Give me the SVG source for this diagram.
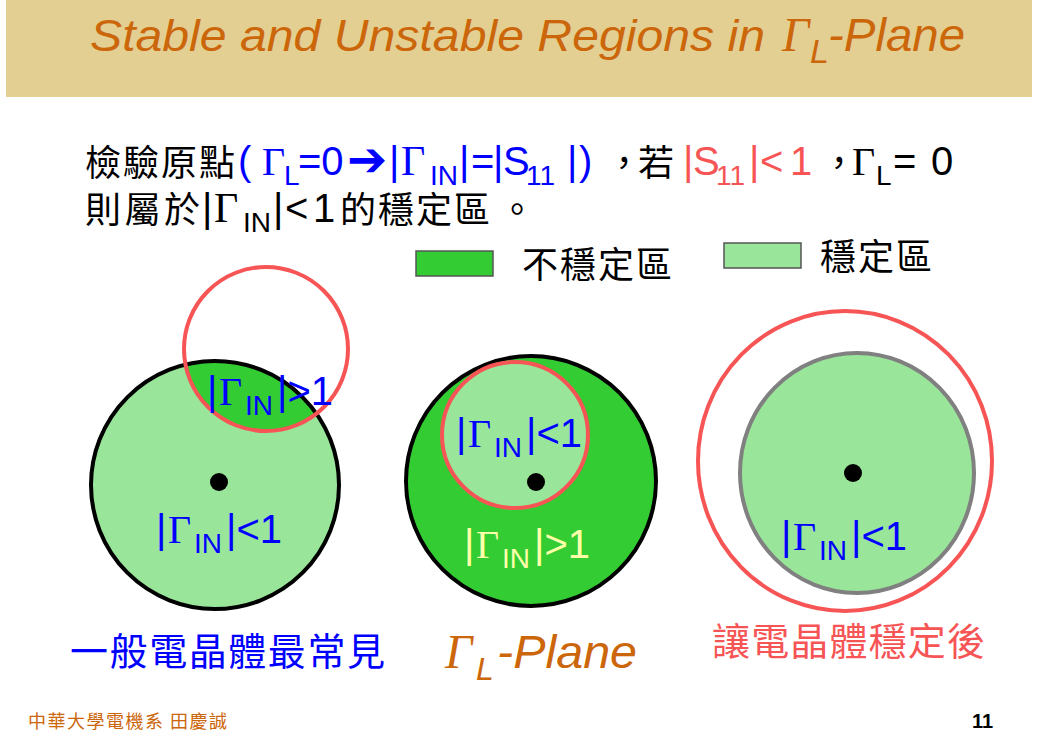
<svg xmlns="http://www.w3.org/2000/svg" width="1040" height="744" viewBox="0 0 1040 744">
<style>
.s{font-family:"Liberation Sans",Arial,sans-serif}
.g{font-family:"Liberation Serif","Times New Roman",serif}
.c{font-family:"Noto Sans CJK TC","Noto Sans CJK SC",sans-serif}
.it{font-style:italic}
.blue{fill:#0000FF}
.black{fill:#000}
.red{fill:#F75555}
.org{fill:#CC660A}
.lbl{font-size:40px}
.sub{font-size:28px}
.t1{font-size:40px}
.t1 .sb{font-size:28px}
</style>
<defs>
<clipPath id="clipL"><circle cx="215" cy="485" r="124"/></clipPath>
</defs>
<rect x="0" y="0" width="1040" height="744" fill="#fff"/>
<g id="header">
<rect x="6" y="0" width="1026" height="97" fill="#E3CF92"/>
<text class="s it org" x="90" y="51" font-size="45" textLength="675" lengthAdjust="spacingAndGlyphs">Stable and Unstable Regions in</text>
<text class="g it org" x="782" y="51" font-size="48">Γ</text>
<text class="s it org" x="810" y="63" font-size="34">L</text>
<text class="s it org" x="828" y="51" font-size="46" textLength="137" lengthAdjust="spacingAndGlyphs">-Plane</text>
</g>
<g id="intro" class="t1">
<text class="c black" x="85" y="176" font-size="36" textLength="150">檢驗原點</text>
<g class="blue">
<text class="s" x="238" y="175">(</text>
<text class="g" x="262" y="175">Γ</text>
<text class="s sb" x="284" y="185">L</text>
<text class="s" x="298" y="175">=0</text>
<text x="347" y="176" font-size="48" font-family="DejaVu Sans" font-weight="bold">➔</text>
<text class="s" x="389" y="175">|</text>
<text class="g" x="401" y="175" font-size="42">Γ</text>
<text class="s sb" x="430" y="185">IN</text>
<text class="s" x="459" y="175">|</text>
<text class="s" x="471" y="175">=</text>
<text class="s" x="493" y="175">|</text>
<text class="s" x="503" y="175">S</text>
<text class="s sb" x="526" y="185">11</text>
<text class="s" x="567" y="175">|</text>
<text class="s" x="579" y="175">)</text>
</g>
<text class="c black" x="606" y="176" font-size="36">，</text>
<text class="c black" x="638" y="176" font-size="36">若</text>
<g class="red">
<text class="s" x="683" y="175">|</text>
<text class="s" x="693" y="175">S</text>
<text class="s sb" x="716" y="185">11</text>
<text class="s" x="749" y="175">|</text>
<text class="s" x="760" y="175">&lt;</text>
<text class="s" x="790" y="175">1</text>
</g>
<text class="c black" x="821" y="176" font-size="36">，</text>
<text class="g black" x="852" y="175">Γ</text>
<text class="s sb black" x="876" y="185">L</text>
<text class="s black" x="893" y="175">=</text>
<text class="s black" x="931" y="175">0</text>
<text class="c black" x="85" y="223" font-size="36" textLength="115">則屬於</text>
<text class="s black" x="202" y="222">|</text>
<text class="g black" x="214" y="222" font-size="42">Γ</text>
<text class="s sb black" x="243" y="232">IN</text>
<text class="s black" x="273" y="222">|</text>
<text class="s black" x="285" y="222">&lt;</text>
<text class="s black" x="313" y="222">1</text>
<text class="c black" x="340" y="223" font-size="36" textLength="150">的穩定區</text>
<text class="c black" x="499" y="223" font-size="36">。</text>
</g>
<g id="legend">
<rect x="416" y="251" width="77" height="25" fill="#33CC33" stroke="#555" stroke-width="1.5"/>
<text class="c black" x="522" y="278" font-size="36" textLength="150">不穩定區</text>
<rect x="724" y="243" width="77" height="25" fill="#99E599" stroke="#555" stroke-width="1.5"/>
<text class="c black" x="820" y="270" font-size="36" textLength="112">穩定區</text>
</g>
<g id="left-diagram">
<circle cx="215" cy="485" r="124" fill="#99E599"/>
<circle cx="266" cy="349" r="82" fill="#33CC33" clip-path="url(#clipL)"/>
<circle cx="215" cy="485" r="124" fill="none" stroke="#000" stroke-width="4"/>
<circle cx="266" cy="349" r="82" fill="none" stroke="#F75555" stroke-width="4"/>
<circle cx="219" cy="482" r="9" fill="#000"/>
<text class="blue lbl"><tspan class="s" x="207" y="405">|</tspan><tspan class="g" x="219" y="405">Γ</tspan><tspan class="s sub" x="245" y="415">IN</tspan><tspan class="s" x="277" y="405">|&gt;1</tspan></text>
<text class="blue lbl"><tspan class="s" x="156" y="543">|</tspan><tspan class="g" x="168" y="543">Γ</tspan><tspan class="s sub" x="194" y="553">IN</tspan><tspan class="s" x="226" y="543">|&lt;1</tspan></text>
</g>
<g id="middle-diagram">
<circle cx="531" cy="481" r="125" fill="#33CC33" stroke="#000" stroke-width="4"/>
<circle cx="515" cy="435" r="73" fill="#99E599" stroke="#F75555" stroke-width="4"/>
<circle cx="536" cy="482" r="9" fill="#000"/>
<text class="blue lbl"><tspan class="s" x="456" y="447">|</tspan><tspan class="g" x="468" y="447">Γ</tspan><tspan class="s sub" x="494" y="457">IN</tspan><tspan class="s" x="526" y="447">|&lt;1</tspan></text>
<text class="lbl" fill="#FFFFAA"><tspan class="s" x="464" y="558">|</tspan><tspan class="g" x="476" y="558">Γ</tspan><tspan class="s sub" x="502" y="568">IN</tspan><tspan class="s" x="534" y="558">|&gt;1</tspan></text>
</g>
<g id="right-diagram">
<ellipse cx="845" cy="461" rx="147" ry="150" fill="none" stroke="#F75555" stroke-width="4"/>
<ellipse cx="857" cy="473" rx="117" ry="120" fill="#99E599" stroke="#808080" stroke-width="4"/>
<circle cx="853" cy="473" r="9" fill="#000"/>
<text class="blue lbl"><tspan class="s" x="781" y="550">|</tspan><tspan class="g" x="793" y="550">Γ</tspan><tspan class="s sub" x="819" y="560">IN</tspan><tspan class="s" x="851" y="550">|&lt;1</tspan></text>
</g>
<g id="captions">
<text class="c blue" x="70" y="665" font-size="38" textLength="315">一般電晶體最常見</text>
<text class="g it org" x="445" y="668" font-size="48">Γ</text>
<text class="s it org" x="476" y="680" font-size="32">L</text>
<text class="s it org" x="497" y="668" font-size="46" textLength="140" lengthAdjust="spacingAndGlyphs">-Plane</text>
<text class="c red" x="712" y="655" font-size="38" textLength="273">讓電晶體穩定後</text>
</g>
<g id="footer">
<text class="c org" x="28" y="728" font-size="18" textLength="199">中華大學電機系 田慶誠</text>
<text class="s black" x="972" y="728" font-size="20" font-weight="bold">11</text>
</g>
</svg>
